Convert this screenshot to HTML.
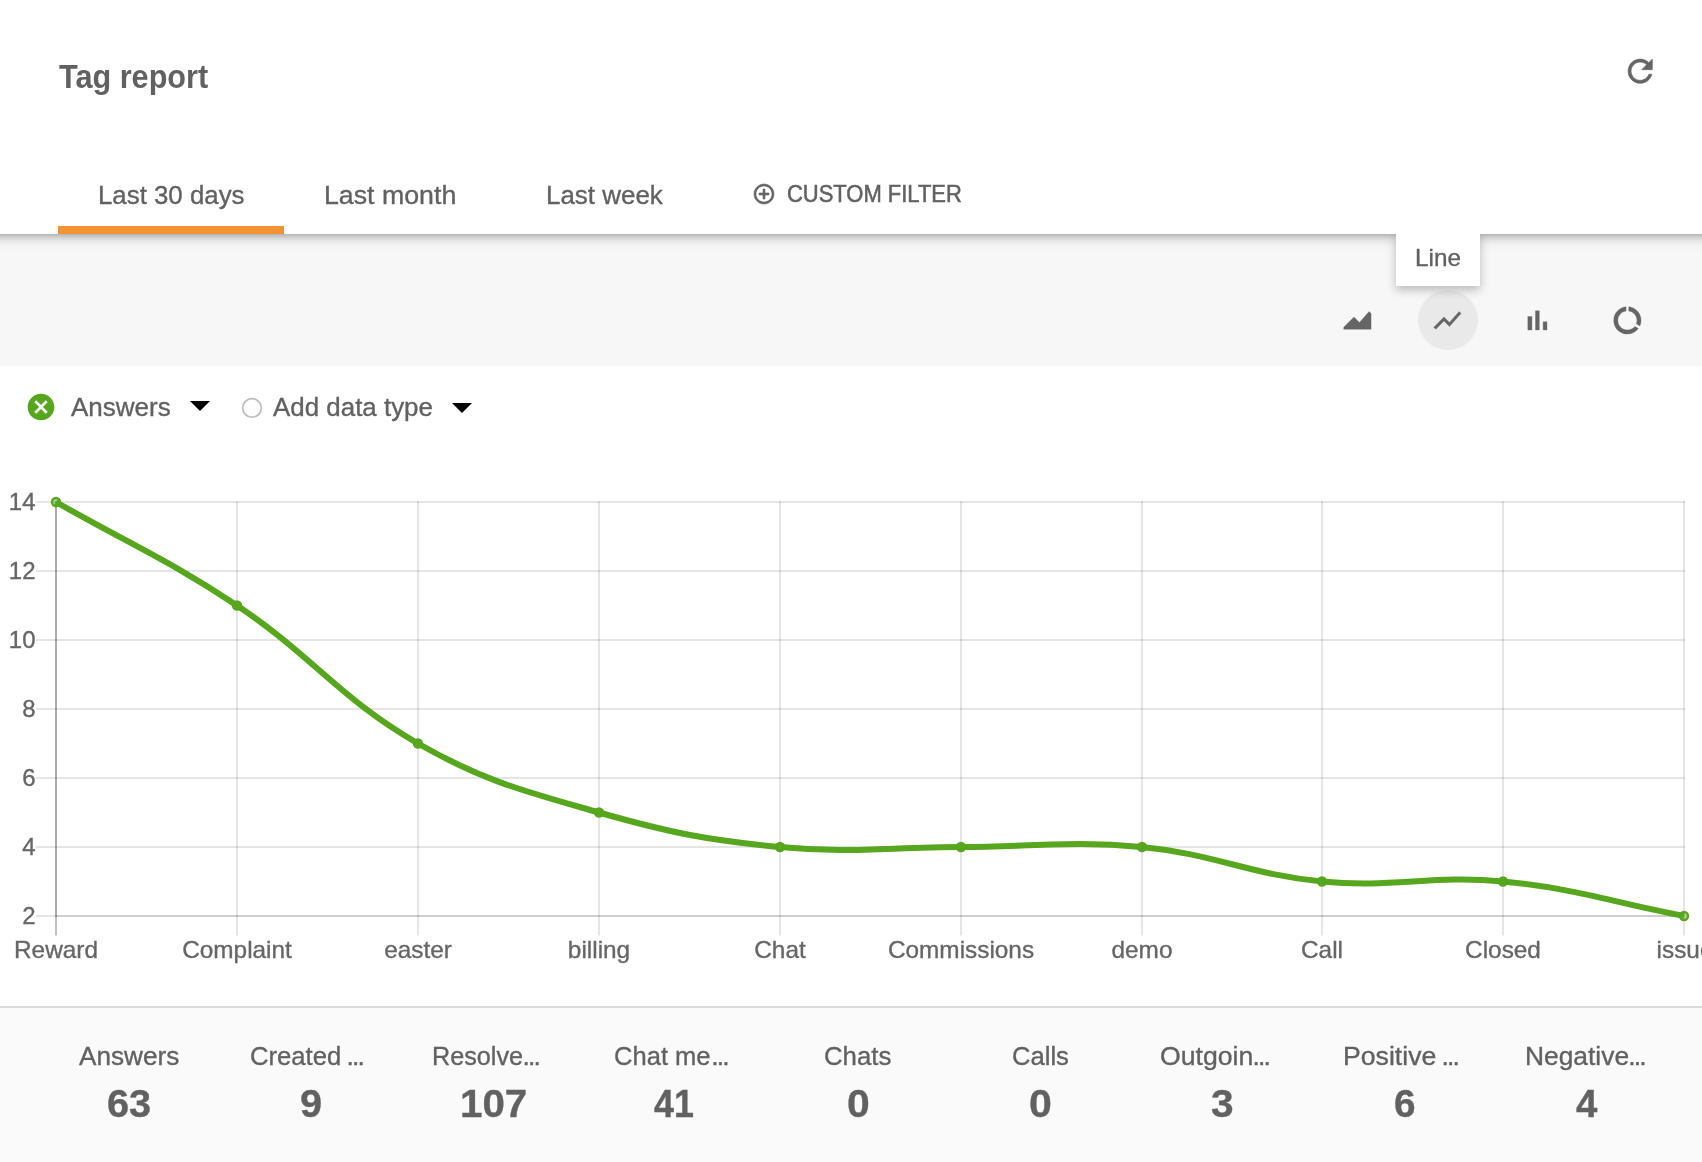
<!DOCTYPE html>
<html>
<head>
<meta charset="utf-8">
<title>Tag report</title>
<style>
html,body{margin:0;padding:0;}
body{width:1702px;height:1162px;position:relative;overflow:hidden;background:#fff;font-family:"Liberation Sans",sans-serif;color:#616161;will-change:transform;}
.abs{position:absolute;}
.t{position:absolute;white-space:nowrap;line-height:1;transform-origin:0 50%;-webkit-text-stroke:0.35px;}
#band{left:0;top:234px;width:1702px;height:132px;background:#f7f7f7;}
#header{left:0;top:0;width:1702px;height:234px;background:#fff;}
#hshadow{left:0;top:234px;width:1702px;height:18px;background:linear-gradient(to bottom,rgba(0,0,0,.25) 0.5px,rgba(0,0,0,.22) 1.5px,rgba(0,0,0,.186) 2.5px,rgba(0,0,0,.158) 3.5px,rgba(0,0,0,.125) 4.5px,rgba(0,0,0,.10) 5.5px,rgba(0,0,0,.08) 6.5px,rgba(0,0,0,.065) 7.5px,rgba(0,0,0,.05) 8.5px,rgba(0,0,0,.036) 9.5px,rgba(0,0,0,.028) 10.5px,rgba(0,0,0,.016) 12.5px,rgba(0,0,0,.008) 14.5px,rgba(0,0,0,0) 17.5px);}
#title{font-size:33.5px;font-weight:bold;-webkit-text-stroke:0;}
.tab{font-size:26px;}
#ink{left:58px;top:226px;width:226px;height:8px;background:#f39232;}
#cf{font-size:24px;-webkit-text-stroke:0.55px;}
#tip{left:1396px;top:232px;width:84px;height:54px;background:#fff;box-shadow:0 4px 9px rgba(0,0,0,0.25);}
#tiptxt{font-size:24px;}
#hl{left:1418px;top:290px;width:60px;height:60px;border-radius:50%;background:#e9e9e9;}
.ico{position:absolute;fill:#656565;stroke:#656565;stroke-width:0.25;}
#leg1,#leg2{font-size:26.5px;}
#divider{left:0;top:1006px;width:1702px;height:2px;background:#dbdbdb;}
#footer{left:0;top:1008px;width:1702px;height:154px;background:#fafafa;}
.lab{font-size:26.5px;}
.num{font-size:39.5px;font-weight:bold;}
.xl{font-size:24px;color:#666;}
.yl{font-size:24px;color:#666;}
</style>
</head>
<body>
<div id="band" class="abs"></div>
<div id="hshadow" class="abs"></div>
<div id="hl" class="abs"></div>
<div id="tip" class="abs"></div>
<div id="header" class="abs"></div>
<div id="title" class="t " style="left:58.52px;top:59.60px;transform:scaleX(0.9144);">Tag report</div>
<div id="tab1" class="t tab" style="left:97.96px;top:182.00px;transform:scaleX(0.9936);">Last 30 days</div>
<div id="tab2" class="t tab" style="left:324.08px;top:182.00px;transform:scaleX(1.0281);">Last month</div>
<div id="tab3" class="t tab" style="left:545.56px;top:182.00px;transform:scaleX(0.9975);">Last week</div>
<div id="ink" class="abs"></div>
<div id="cf" class="t " style="left:786.88px;top:182.00px;transform:scaleX(0.9148);">CUSTOM FILTER</div>
<div id="tiptxt" class="t " style="left:1414.94px;top:246.00px;transform:scaleX(1.0112);">Line</div>
<svg class="ico" style="left:1621.8px;top:52.85px;stroke:#656565;stroke-width:0.4;" width="36.4" height="36.4" viewBox="0 0 24 24"><path d="M17.65 6.35C16.2 4.9 14.21 4 12 4c-4.42 0-7.99 3.58-7.99 8s3.57 8 7.99 8c3.73 0 6.84-2.55 7.73-6h-2.08c-.82 2.33-3.04 4-5.65 4-3.31 0-6-2.69-6-6s2.69-6 6-6c1.66 0 3.14.69 4.22 1.78L13 11h7V4l-2.35 2.35z"/></svg>
<svg class="ico" style="left:752px;top:181.55px;stroke:#656565;stroke-width:0.6;" width="24" height="24" viewBox="0 0 24 24"><path d="M13 7h-2v4H7v2h4v4h2v-4h4v-2h-4V7zm-1-5C6.48 2 2 6.48 2 12s4.48 10 10 10 10-4.48 10-10S17.52 2 12 2zm0 18c-4.41 0-8-3.59-8-8s3.59-8 8-8 8 3.59 8 8-3.590 8-8 8z"/></svg>
<svg class="ico" style="left:1341.45px;top:304.2px;" width="32.8" height="32.8" viewBox="0 0 24 24"><path d="M2 18.49V16.99L9.5 9.48l4 4L20.59 5.51 22 6.92V18.49z"/></svg>
<svg class="ico" style="left:1431.45px;top:304.2px;" width="32.8" height="32.8" viewBox="0 0 24 24"><path d="M3.5 18.49l6-6.01 4 4L22 6.92l-1.41-1.41-7.09 7.97-4-4L2 16.99z"/></svg>
<svg class="ico" style="left:1521.45px;top:304.2px;" width="32.8" height="32.8" viewBox="0 0 24 24"><path d="M5 9.2h3V19H5zM10.6 5h2.8v14h-2.8zm5.6 8H19v6h-2.8z"/></svg>
<svg class="ico" style="left:1611.45px;top:304.2px;" width="32.8" height="32.8" viewBox="0 0 24 24"><path d="M13 2.05v3.03c3.39.49 6 3.39 6 6.92 0 .9-.18 1.75-.48 2.54l2.6 1.53c.56-1.24.88-2.62.88-4.07 0-5.18-3.95-9.45-9-9.95zM12 19c-3.87 0-7-3.13-7-7 0-3.53 2.61-6.43 6-6.92V2.05c-5.06.5-9 4.76-9 9.95 0 5.52 4.47 10 9.99 10 3.31 0 6.24-1.61 8.06-4.09l-2.6-1.53C16.17 17.98 14.21 19 12 19z"/></svg>
<svg class="abs" style="left:25.04px;top:390.97px;fill:#56a61e;" width="32" height="32" viewBox="0 0 24 24"><path d="M12 2C6.47 2 2 6.47 2 12s4.47 10 10 10 10-4.47 10-10S17.53 2 12 2zm5 13.59L15.59 17 12 13.41 8.41 17 7 15.59 10.59 12 7 8.41 8.41 7 12 10.59 15.59 7 17 8.41 13.41 12 17 15.59z"/></svg>
<svg class="abs" style="left:180px;top:395px" width="300" height="24" viewBox="180 395 300 24"><path d="M190 401h20l-10 10z" fill="#000"/><path d="M452 403h20l-10 10z" fill="#000"/></svg>
<div id="leg1" class="t " style="left:70.60px;top:393.57px;transform:scaleX(0.9814);">Answers</div>
<svg class="abs" style="left:238px;top:394px" width="28" height="28" viewBox="238 394 28 28"><circle cx="252" cy="407.95" r="9.3" fill="#fff" stroke="#bcbcbc" stroke-width="1.7"/></svg>
<div id="leg2" class="t " style="left:272.79px;top:393.57px;transform:scaleX(0.9778);">Add data type</div>
<svg class="abs" style="left:0;top:480px" width="1702" height="470" viewBox="0 480 1702 470">
<rect x="36" y="501" width="1649" height="2" fill="rgba(0,0,0,0.1)"/>
<rect x="36" y="570" width="1649" height="2" fill="rgba(0,0,0,0.1)"/>
<rect x="36" y="639" width="1649" height="2" fill="rgba(0,0,0,0.1)"/>
<rect x="36" y="708" width="1649" height="2" fill="rgba(0,0,0,0.1)"/>
<rect x="36" y="777" width="1649" height="2" fill="rgba(0,0,0,0.1)"/>
<rect x="36" y="846" width="1649" height="2" fill="rgba(0,0,0,0.1)"/>
<rect x="36" y="915" width="1649" height="2" fill="rgba(0,0,0,0.1)"/>
<rect x="55" y="501" width="2" height="434.5" fill="rgba(0,0,0,0.25)"/>
<rect x="236" y="501" width="2" height="434.5" fill="rgba(0,0,0,0.1)"/>
<rect x="417" y="501" width="2" height="434.5" fill="rgba(0,0,0,0.1)"/>
<rect x="598" y="501" width="2" height="434.5" fill="rgba(0,0,0,0.1)"/>
<rect x="779" y="501" width="2" height="434.5" fill="rgba(0,0,0,0.1)"/>
<rect x="960" y="501" width="2" height="434.5" fill="rgba(0,0,0,0.1)"/>
<rect x="1141" y="501" width="2" height="434.5" fill="rgba(0,0,0,0.1)"/>
<rect x="1321" y="501" width="2" height="434.5" fill="rgba(0,0,0,0.1)"/>
<rect x="1502" y="501" width="2" height="434.5" fill="rgba(0,0,0,0.1)"/>
<rect x="1683" y="501" width="2" height="434.5" fill="rgba(0,0,0,0.1)"/>
<rect x="55" y="501" width="2" height="416" fill="rgba(0,0,0,0.1)"/>
<rect x="55" y="915" width="1630" height="2" fill="rgba(0,0,0,0.1)"/>
<path d="M56 502.0 C128.40 543.40 167.77 559.32 237 605.5 C312.57 655.92 339.77 698.77 418 743.5 C484.57 781.57 524.79 791.28 599 812.5 C669.59 832.68 706.95 840.04 780 847.0 C851.75 853.84 888.60 847.00 961 847.0 C1033.40 847.00 1070.25 840.14 1142 847.0 C1214.65 853.94 1249.35 874.56 1322 881.5 C1393.75 888.36 1431.25 874.66 1503 881.5 C1576.05 888.46 1611.60 902.20 1684 916.0" fill="none" stroke="#56a61e" stroke-width="6" stroke-linejoin="round"/>
<circle cx="56" cy="502.0" r="4" fill="rgba(86,166,30,0.45)" stroke="#56a61e" stroke-width="2.4"/>
<circle cx="237" cy="605.5" r="4" fill="rgba(86,166,30,0.45)" stroke="#56a61e" stroke-width="2.4"/>
<circle cx="418" cy="743.5" r="4" fill="rgba(86,166,30,0.45)" stroke="#56a61e" stroke-width="2.4"/>
<circle cx="599" cy="812.5" r="4" fill="rgba(86,166,30,0.45)" stroke="#56a61e" stroke-width="2.4"/>
<circle cx="780" cy="847.0" r="4" fill="rgba(86,166,30,0.45)" stroke="#56a61e" stroke-width="2.4"/>
<circle cx="961" cy="847.0" r="4" fill="rgba(86,166,30,0.45)" stroke="#56a61e" stroke-width="2.4"/>
<circle cx="1142" cy="847.0" r="4" fill="rgba(86,166,30,0.45)" stroke="#56a61e" stroke-width="2.4"/>
<circle cx="1322" cy="881.5" r="4" fill="rgba(86,166,30,0.45)" stroke="#56a61e" stroke-width="2.4"/>
<circle cx="1503" cy="881.5" r="4" fill="rgba(86,166,30,0.45)" stroke="#56a61e" stroke-width="2.4"/>
<circle cx="1684" cy="916.0" r="4" fill="rgba(86,166,30,0.45)" stroke="#56a61e" stroke-width="2.4"/>
</svg>
<div id="xl0" class="t xl" style="left:-44px;top:937.7px;width:200px;text-align:center;transform:scaleX(1.015);transform-origin:50% 50%">Reward</div>
<div id="xl1" class="t xl" style="left:137px;top:937.7px;width:200px;text-align:center;transform:scaleX(1.015);transform-origin:50% 50%">Complaint</div>
<div id="xl2" class="t xl" style="left:318px;top:937.7px;width:200px;text-align:center;transform:scaleX(1.015);transform-origin:50% 50%">easter</div>
<div id="xl3" class="t xl" style="left:499px;top:937.7px;width:200px;text-align:center;transform:scaleX(1.015);transform-origin:50% 50%">billing</div>
<div id="xl4" class="t xl" style="left:680px;top:937.7px;width:200px;text-align:center;transform:scaleX(1.015);transform-origin:50% 50%">Chat</div>
<div id="xl5" class="t xl" style="left:861px;top:937.7px;width:200px;text-align:center;transform:scaleX(1.015);transform-origin:50% 50%">Commissions</div>
<div id="xl6" class="t xl" style="left:1042px;top:937.7px;width:200px;text-align:center;transform:scaleX(1.015);transform-origin:50% 50%">demo</div>
<div id="xl7" class="t xl" style="left:1222px;top:937.7px;width:200px;text-align:center;transform:scaleX(1.015);transform-origin:50% 50%">Call</div>
<div id="xl8" class="t xl" style="left:1403px;top:937.7px;width:200px;text-align:center;transform:scaleX(1.015);transform-origin:50% 50%">Closed</div>
<div id="xl9" class="t xl" style="left:1584.5px;top:937.7px;width:200px;text-align:center;transform:scaleX(1.015);transform-origin:50% 50%">issue</div>
<div id="yl0" class="t yl" style="left:0;top:489.65px;width:35.5px;text-align:right">14</div>
<div id="yl1" class="t yl" style="left:0;top:558.65px;width:35.5px;text-align:right">12</div>
<div id="yl2" class="t yl" style="left:0;top:627.65px;width:35.5px;text-align:right">10</div>
<div id="yl3" class="t yl" style="left:0;top:696.65px;width:35.5px;text-align:right">8</div>
<div id="yl4" class="t yl" style="left:0;top:765.65px;width:35.5px;text-align:right">6</div>
<div id="yl5" class="t yl" style="left:0;top:834.65px;width:35.5px;text-align:right">4</div>
<div id="yl6" class="t yl" style="left:0;top:903.65px;width:35.5px;text-align:right">2</div>
<div id="divider" class="abs"></div>
<div id="footer" class="abs"></div>
<div id="lab0" class="t lab" style="left:79.47px;top:1043.17px;transform:scaleX(0.9861);">Answers</div>
<div id="num0" class="t num" style="left:107.16px;top:1083.56px;transform:scaleX(1.0070);">63</div>
<div id="lab1" class="t lab" style="left:250.25px;top:1043.17px;transform:scaleX(0.9682);">Created</div>
<div id="dot1" class="t lab" style="left:346.56px;top:1043.17px;letter-spacing:-1.850px;">...</div>
<div id="num1" class="t num" style="left:299.76px;top:1083.56px;transform:scaleX(1.0050);">9</div>
<div id="lab2" class="t lab" style="left:432.03px;top:1043.17px;transform:scaleX(0.9511);">Resolve</div>
<div id="dot2" class="t lab" style="left:522.46px;top:1043.17px;letter-spacing:-1.850px;">...</div>
<div id="num2" class="t num" style="left:459.91px;top:1083.56px;transform:scaleX(1.0199);">107</div>
<div id="lab3" class="t lab" style="left:614.18px;top:1043.17px;transform:scaleX(0.9643);">Chat me</div>
<div id="dot3" class="t lab" style="left:711.20px;top:1043.17px;letter-spacing:-1.850px;">...</div>
<div id="num3" class="t num" style="left:654.02px;top:1083.56px;transform:scaleX(0.9074);">41</div>
<div id="lab4" class="t lab" style="left:824.21px;top:1043.17px;transform:scaleX(0.9730);">Chats</div>
<div id="num4" class="t num" style="left:846.79px;top:1083.56px;transform:scaleX(1.0355);">0</div>
<div id="lab5" class="t lab" style="left:1011.68px;top:1043.17px;transform:scaleX(0.9662);">Calls</div>
<div id="num5" class="t num" style="left:1029.22px;top:1083.56px;transform:scaleX(1.0390);">0</div>
<div id="lab6" class="t lab" style="left:1160.26px;top:1043.17px;transform:scaleX(1.0046);">Outgoin</div>
<div id="dot6" class="t lab" style="left:1252.46px;top:1043.17px;letter-spacing:-1.850px;">...</div>
<div id="num6" class="t num" style="left:1211.12px;top:1083.56px;transform:scaleX(1.0300);">3</div>
<div id="lab7" class="t lab" style="left:1342.96px;top:1043.17px;transform:scaleX(1.0053);">Positive</div>
<div id="dot7" class="t lab" style="left:1441.60px;top:1043.17px;letter-spacing:-1.850px;">...</div>
<div id="num7" class="t num" style="left:1393.58px;top:1083.56px;transform:scaleX(0.9805);">6</div>
<div id="lab8" class="t lab" style="left:1524.84px;top:1043.17px;transform:scaleX(0.9948);">Negative</div>
<div id="dot8" class="t lab" style="left:1628.30px;top:1043.17px;letter-spacing:-1.850px;">...</div>
<div id="num8" class="t num" style="left:1575.81px;top:1083.56px;transform:scaleX(0.9719);">4</div>
</body>
</html>
